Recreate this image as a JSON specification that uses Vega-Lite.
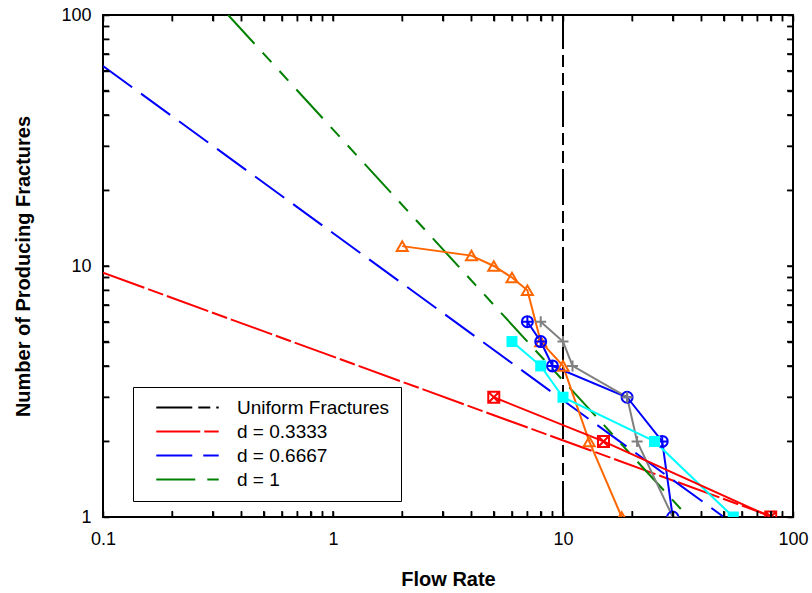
{
  "$schema": "https://vega.github.io/schema/vega-lite/v6.json",
  "width": 690,
  "height": 502,
  "autosize": "none",
  "padding": {"left": 103, "top": 15, "right": 19, "bottom": 76},
  "background": "white",
  "config": {
    "view": {"stroke": "black", "strokeWidth": 2},
    "font": "Liberation Sans",
    "axis": {
      "domain": false,
      "grid": false,
      "ticks": true,
      "zindex": 1,
      "labelFont": "Liberation Sans",
      "labelFontSize": 18,
      "labelColor": "black",
      "tickColor": "black",
      "tickWidth": 1.5,
      "tickOpacity": 1,
      "titleFont": "Liberation Sans",
      "titleFontSize": 20,
      "titleFontWeight": "bold",
      "titleColor": "black"
    }
  },
  "datasets": {
    "fits": [
      {"model": "Uniform Fractures", "x": 10, "y": 1},
      {"model": "Uniform Fractures", "x": 10, "y": 100},
      {"model": "d = 0.3333", "x": 0.1, "y": 9.4},
      {"model": "d = 0.3333", "x": 82, "y": 1},
      {"model": "d = 0.6667", "x": 0.1, "y": 62.6},
      {"model": "d = 0.6667", "x": 50, "y": 1},
      {"model": "d = 1", "x": 0.35, "y": 100},
      {"model": "d = 1", "x": 35, "y": 1}
    ],
    "obs": [
      {"series": "Series 1", "x": 2, "y": 12},
      {"series": "Series 1", "x": 4, "y": 11},
      {"series": "Series 1", "x": 5, "y": 10},
      {"series": "Series 1", "x": 6, "y": 9},
      {"series": "Series 1", "x": 7, "y": 8},
      {"series": "Series 1", "x": 8, "y": 5},
      {"series": "Series 1", "x": 10, "y": 4},
      {"series": "Series 1", "x": 13, "y": 2},
      {"series": "Series 1", "x": 18, "y": 1},
      {"series": "Series 2", "x": 7, "y": 6},
      {"series": "Series 2", "x": 8, "y": 5},
      {"series": "Series 2", "x": 9, "y": 4},
      {"series": "Series 2", "x": 19, "y": 3},
      {"series": "Series 2", "x": 27, "y": 2},
      {"series": "Series 2", "x": 30, "y": 1},
      {"series": "Series 3", "x": 8, "y": 6},
      {"series": "Series 3", "x": 10, "y": 5},
      {"series": "Series 3", "x": 11, "y": 4},
      {"series": "Series 3", "x": 19, "y": 3},
      {"series": "Series 3", "x": 21, "y": 2},
      {"series": "Series 3", "x": 30, "y": 1},
      {"series": "Series 4", "x": 6, "y": 5},
      {"series": "Series 4", "x": 8, "y": 4},
      {"series": "Series 4", "x": 10, "y": 3},
      {"series": "Series 4", "x": 25, "y": 2},
      {"series": "Series 4", "x": 55, "y": 1},
      {"series": "Series 5", "x": 5, "y": 3},
      {"series": "Series 5", "x": 15, "y": 2},
      {"series": "Series 5", "x": 80, "y": 1}
    ],
    "xticks": [
      {"v": 0.2}, {"v": 0.3}, {"v": 0.4}, {"v": 0.5}, {"v": 0.6}, {"v": 0.7}, {"v": 0.8}, {"v": 0.9}, {"v": 1},
      {"v": 2}, {"v": 3}, {"v": 4}, {"v": 5}, {"v": 6}, {"v": 7}, {"v": 8}, {"v": 9}, {"v": 10},
      {"v": 20}, {"v": 30}, {"v": 40}, {"v": 50}, {"v": 60}, {"v": 70}, {"v": 80}, {"v": 90}
    ],
    "yticks": [
      {"v": 2}, {"v": 3}, {"v": 4}, {"v": 5}, {"v": 6}, {"v": 7}, {"v": 8}, {"v": 9}, {"v": 10},
      {"v": 20}, {"v": 30}, {"v": 40}, {"v": 50}, {"v": 60}, {"v": 70}, {"v": 80}, {"v": 90}
    ]
  },
  "layer": [
    {
      "data": {"name": "fits"},
      "transform": [{"calculate": "datum.model", "as": "dash"}],
      "mark": {"type": "line", "clip": true, "strokeWidth": 2},
      "encoding": {
        "x": {
          "field": "x", "type": "quantitative",
          "scale": {"type": "log", "domain": [0.1, 100], "nice": false},
          "axis": {
            "orient": "bottom",
            "offset": -6,
            "zindex": 1,
            "values": [0.1,0.2,0.3,0.4,0.5,0.6,0.7,0.8,0.9,1,2,3,4,5,6,7,8,9,10,20,30,40,50,60,70,80,90,100],
            "labelExpr": "datum.value == 0.1 ? '0.1' : datum.value == 1 ? '1' : datum.value == 10 ? '10' : datum.value == 100 ? '100' : ''",
            "ticks": true,
            "tickSize": 6,
            "tickColor": "#000000",
            "tickWidth": 1.5,
            "tickOpacity": 1,
            "labelPadding": 13,
            "labelOverlap": false,
            "labelFlush": false,
            "title": "Flow Rate",
            "titleY": 74,
            "titleBaseline": "alphabetic"
          }
        },
        "y": {
          "field": "y", "type": "quantitative",
          "scale": {"type": "log", "domain": [1, 100], "nice": false},
          "axis": {
            "orient": "left",
            "offset": -6,
            "zindex": 1,
            "values": [1,2,3,4,5,6,7,8,9,10,20,30,40,50,60,70,80,90,100],
            "labelExpr": "datum.value == 1 ? '1' : datum.value == 10 ? '10' : datum.value == 100 ? '100' : ''",
            "ticks": true,
            "tickSize": 6,
            "tickColor": "#000000",
            "tickWidth": 1.5,
            "tickOpacity": 1,
            "labelPadding": 12,
            "labelOverlap": false,
            "labelFlush": false,
            "labelBaseline": "middle",
            "title": "Number of Producing Fractures",
            "titleX": -86,
            "titleY": 251,
            "titleAngle": -90,
            "titleAlign": "center",
            "titleBaseline": "middle"
          }
        },
        "color": {
          "field": "model", "type": "nominal",
          "scale": {"domain": ["Uniform Fractures", "d = 0.3333", "d = 0.6667", "d = 1"], "range": ["#000000", "#ff0000", "#0000ff", "#008000"]},
          "legend": {
            "title": null, "orient": "none", "legendX": 30, "legendY": 372, "zindex": 2,
            "fillColor": "white", "strokeColor": "black", "padding": 11,
            "symbolType": "M-5,0L5,0", "symbolSize": 156, "symbolStrokeWidth": 2, "symbolOffset": 34,
            "labelFont": "Liberation Sans", "labelFontSize": 19, "labelColor": "black", "labelOffset": 40, "labelLimit": 300,
            "rowPadding": 4,
            "encode": {"symbols": {
              "update": {"strokeDash": {"signal": "datum.value === 'Uniform Fractures' ? [20,13,7,10,7,10] : datum.value === 'd = 0.3333' ? [8,7] : datum.value === 'd = 0.6667' ? [20,10] : [20,13,8,10,8,10]"}}
            }}
          }
        },
        "strokeDash": {
          "field": "dash", "type": "nominal",
          "scale": {"domain": ["Uniform Fractures", "d = 0.3333", "d = 0.6667", "d = 1"], "range": [[36,6,12,6,12,6], [44,4,16,4], [36,11], [39,12,13,12,13,12]]},
          "legend": null
        }
      }
    },
    {
      "data": {"name": "obs"},
      "mark": {"type": "line", "clip": true, "strokeWidth": 2},
      "encoding": {
        "x": {"field": "x", "type": "quantitative", "axis": null},
        "y": {"field": "y", "type": "quantitative", "axis": null},
        "stroke": {
          "field": "series", "type": "nominal",
          "scale": {"domain": ["Series 1", "Series 2", "Series 3", "Series 4", "Series 5"], "range": ["#ff6600", "#0000ff", "#808080", "#00ffff", "#ff0000"]},
          "legend": null
        }
      }
    },
    {
      "data": {"name": "obs"},
      "transform": [{"filter": "datum.series !== 'Series 4'"}],
      "mark": {"type": "point", "clip": true, "filled": false, "strokeWidth": 2, "size": 121, "opacity": 1},
      "encoding": {
        "x": {"field": "x", "type": "quantitative", "axis": null},
        "y": {"field": "y", "type": "quantitative", "axis": null},
        "stroke": {"field": "series", "type": "nominal", "legend": null},
        "shape": {
          "field": "series", "type": "nominal",
          "scale": {"domain": ["Series 1", "Series 2", "Series 3", "Series 5"], "range": ["triangle-up", "M-1,0A1,1,0,1,1,1,0A1,1,0,1,1,-1,0Z M-1,0L1,0 M0,-1L0,1", "M-1,0L1,0 M0,-1L0,1", "M-1,-1L1,-1L1,1L-1,1Z M-1,-1L1,1 M1,-1L-1,1"]},
          "legend": null
        }
      }
    },
    {
      "data": {"name": "obs"},
      "transform": [{"filter": "datum.series === 'Series 4'"}],
      "mark": {"type": "square", "clip": true, "filled": true, "color": "#00ffff", "size": 121, "opacity": 1},
      "encoding": {
        "x": {"field": "x", "type": "quantitative", "axis": null},
        "y": {"field": "y", "type": "quantitative", "axis": null}
      }
    },
    {
      "data": {"name": "xticks"},
      "mark": {"type": "rule", "color": "black", "strokeWidth": 1.5, "y2Offset": -6},
      "encoding": {
        "x": {"field": "v", "type": "quantitative", "axis": null},
        "y": {"datum": 1, "type": "quantitative", "axis": null},
        "y2": {"datum": 1}
      }
    },
    {
      "data": {"name": "xticks"},
      "mark": {"type": "rule", "color": "black", "strokeWidth": 1.5, "y2Offset": 6},
      "encoding": {
        "x": {"field": "v", "type": "quantitative", "axis": null},
        "y": {"datum": 100, "type": "quantitative", "axis": null},
        "y2": {"datum": 100}
      }
    },
    {
      "data": {"name": "yticks"},
      "mark": {"type": "rule", "color": "black", "strokeWidth": 1.5, "x2Offset": 6},
      "encoding": {
        "y": {"field": "v", "type": "quantitative", "axis": null},
        "x": {"datum": 0.1, "type": "quantitative", "axis": null},
        "x2": {"datum": 0.1}
      }
    },
    {
      "data": {"name": "yticks"},
      "mark": {"type": "rule", "color": "black", "strokeWidth": 1.5, "x2Offset": -6},
      "encoding": {
        "y": {"field": "v", "type": "quantitative", "axis": null},
        "x": {"datum": 100, "type": "quantitative", "axis": null},
        "x2": {"datum": 100}
      }
    },
    {
      "data": {"name": "fits"},
      "mark": {"type": "point", "opacity": 0},
      "encoding": {
        "x": {
          "field": "x", "type": "quantitative",
          "axis": {
            "orient": "top",
            "offset": -6,
            "zindex": 1,
            "values": [0.1,0.2,0.3,0.4,0.5,0.6,0.7,0.8,0.9,1,2,3,4,5,6,7,8,9,10,20,30,40,50,60,70,80,90,100],
            "labels": false,
            "ticks": true,
            "tickSize": 6,
            "tickColor": "#000000",
            "tickWidth": 1.5,
            "tickOpacity": 1,
            "title": null
          }
        },
        "y": {
          "field": "y", "type": "quantitative",
          "axis": {
            "orient": "right",
            "offset": -6,
            "zindex": 1,
            "values": [1,2,3,4,5,6,7,8,9,10,20,30,40,50,60,70,80,90,100],
            "labels": false,
            "ticks": true,
            "tickSize": 6,
            "tickColor": "#000000",
            "tickWidth": 1.5,
            "tickOpacity": 1,
            "title": null
          }
        }
      }
    }
  ],
  "resolve": {
    "scale": {"stroke": "shared"},
    "axis": {"x": "independent", "y": "independent"}
  }
}
